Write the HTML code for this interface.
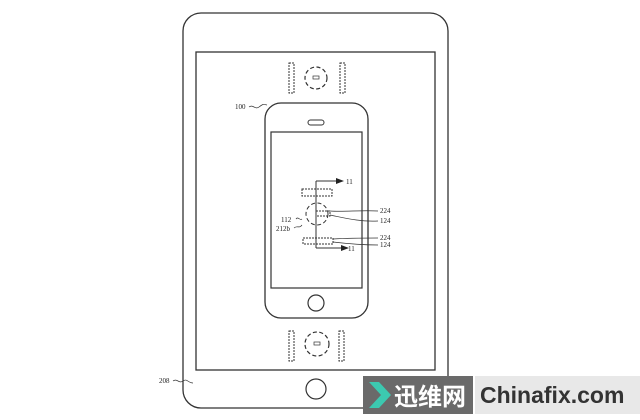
<!DOCTYPE html>
<html><head><meta charset="utf-8"><style>
body{margin:0;background:#fff;width:640px;height:420px;overflow:hidden;position:relative;font-family:"Liberation Serif",serif}
</style></head><body>
<svg width="640" height="420" style="position:absolute;left:0;top:0" font-family="Liberation Serif, serif" font-size="7" fill="none" stroke="#333">
<rect x="183" y="13" width="265" height="395" rx="18" stroke-width="1.3"/>
<rect x="196" y="52" width="239" height="318" stroke-width="1.3"/>
<circle cx="316" cy="389" r="10" stroke-width="1.2"/>
<!-- top group -->
<rect x="289" y="63" width="5" height="30" stroke-dasharray="2 1"/>
<rect x="340" y="63" width="5" height="30" stroke-dasharray="2 1"/>
<circle cx="316" cy="78" r="11" stroke-dasharray="4 2.5" stroke-width="1.2"/>
<rect x="313" y="76" width="6" height="3" stroke-width="0.7"/>
<!-- bottom group -->
<rect x="289" y="331" width="5" height="30" stroke-dasharray="2 1"/>
<rect x="339" y="331" width="5" height="30" stroke-dasharray="2 1"/>
<circle cx="317" cy="344" r="12" stroke-dasharray="4 2.5" stroke-width="1.2"/>
<rect x="314" y="342" width="6" height="3" stroke-width="0.7"/>
<!-- phone -->
<rect x="265" y="103" width="103" height="215" rx="16" stroke-width="1.3"/>
<rect x="271" y="132" width="91" height="156" stroke-width="1.2"/>
<rect x="308" y="120" width="16" height="5" rx="2.5"/>
<circle cx="316" cy="303" r="8" stroke-width="1.2"/>
<!-- details -->
<path d="M316 181V248M316 181H338M316 248H343"/>
<path d="M336 178L344 181L336 184Z M341 245L349 248L341 251Z" fill="#222" stroke="none"/>
<rect x="302" y="189" width="30" height="7" stroke-dasharray="2 1"/>
<circle cx="317" cy="214" r="11" stroke-dasharray="4 2.5"/>
<rect x="316" y="211" width="14" height="5" stroke-dasharray="2 1"/>
<rect x="303" y="238" width="30" height="6" stroke-dasharray="2 1"/>
<path d="M330 211C345 212 360 210 378 211M330 215C345 218 360 222 378 221M333 239C350 238 365 238 378 238M333 242C350 244 365 245 378 245" stroke-width="0.7"/>
<path d="M296 219c2-3 4 2 6 0" stroke-width="0.7"/>
<path d="M294 228c3-3 5 1 8-3" stroke-width="0.7"/>
<path d="M249 107c4-3 6 3 10 0s4-3 8 -2" stroke-width="0.7"/>
<path d="M173 381c4-3 6 3 10 0s5 2 10 2" stroke-width="0.7"/>
<g fill="#222" stroke="none">
<text x="346" y="184">11</text><text x="348" y="251">11</text>
<text x="281" y="222">112</text><text x="276" y="231">212b</text>
<text x="380" y="213">224</text><text x="380" y="223">124</text>
<text x="380" y="240">224</text><text x="380" y="247">124</text>
<text x="235" y="109">100</text><text x="159" y="383">208</text>
</g>
</svg>
<div style="position:absolute;left:363px;top:376px;width:110px;height:38px;background:#6a6a6a"></div>
<svg width="30" height="38" style="position:absolute;left:366px;top:376px"><path d="M3 6H13L25 19L13 32H3L15 19Z" fill="#3cc9b0"/></svg>
<div style="position:absolute;left:394px;top:379px;color:#fff;font:bold 24px 'Noto Sans CJK SC',sans-serif;line-height:32px">迅维网</div>
<div style="position:absolute;left:475px;top:376px;width:165px;height:38px;background:#e8e8e8;color:#333;font:bold 23px 'Liberation Sans',sans-serif;line-height:38px;padding-left:5px;box-sizing:border-box">Chinafix.com</div>
</body></html>
